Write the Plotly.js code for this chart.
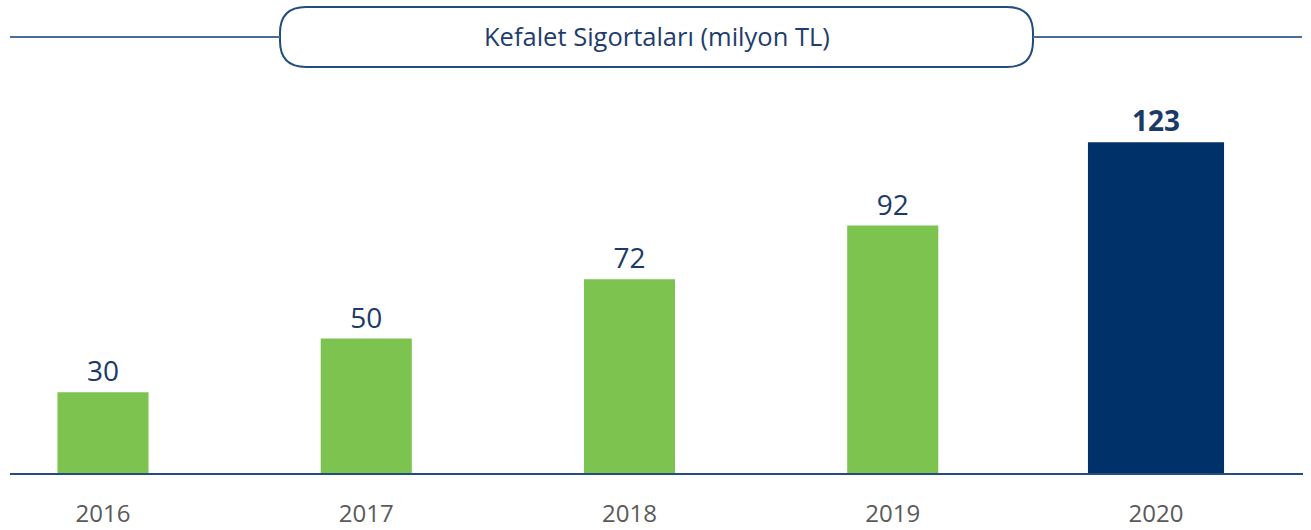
<!DOCTYPE html>
<html>
<head>
<meta charset="utf-8">
<script src="https://cdn.plot.ly/plotly-3.0.1.min.js"></script>
<style>html,body{margin:0;padding:0;background:#fff;}#chart{width:1311px;height:530px;}</style>
</head>
<body>
<div id="chart"></div>
<script>
var years = ['2016', '2017', '2018', '2019', '2020'];
var values = [30, 50, 72, 92, 123];
var labels = ['30', '50', '72', '92', '<b>123</b>'];
var barColors = ['#7dc350', '#7dc350', '#7dc350', '#7dc350', '#003168'];
var barWidths = [0.346, 0.346, 0.346, 0.346, 0.517];
var chartTitle = 'Kefalet Sigortaları (milyon TL)';

var FIG_W = 1311, FIG_H = 530;
var M = {l: 10, r: 8, t: 80, b: 57};
var PW = FIG_W - M.l - M.r, PH = FIG_H - M.t - M.b;
function px(x) { return (x - M.l) / PW; }
function py(y) { return (FIG_H - M.b - y) / PH; }

var navy = '#234d7c';
var xIdx = years.map(function (_, i) { return i; });

var trace = {
  type: 'bar',
  x: xIdx,
  y: values,
  width: barWidths,
  marker: {color: barColors},
  text: labels,
  textposition: 'outside',
  textfont: {family: 'Open Sans, sans-serif', size: 28, color: '#1b3a66'},
  cliponaxis: false,
  hoverinfo: 'none'
};

// rounded title box path (pixel -> paper)
var bx0 = 280, bx1 = 1033, by0 = 7, by1 = 67, r = 26;
function P(x, y) { return px(x) + ',' + py(y); }
var boxPath = 'M' + P(bx0 + r, by0) + ' L' + P(bx1 - r, by0) +
  ' Q' + P(bx1, by0) + ' ' + P(bx1, by0 + r) +
  ' L' + P(bx1, by1 - r) +
  ' Q' + P(bx1, by1) + ' ' + P(bx1 - r, by1) +
  ' L' + P(bx0 + r, by1) +
  ' Q' + P(bx0, by1) + ' ' + P(bx0, by1 - r) +
  ' L' + P(bx0, by0 + r) +
  ' Q' + P(bx0, by0) + ' ' + P(bx0 + r, by0) + ' Z';

var layout = {
  width: FIG_W, height: FIG_H,
  margin: M,
  paper_bgcolor: '#ffffff', plot_bgcolor: '#ffffff',
  showlegend: false,
  font: {family: 'Open Sans, sans-serif'},
  xaxis: {
    range: [(10 - 103) / 263.25, 4 + (1303 - 1156) / 263.25],
    tickmode: 'array', tickvals: xIdx, ticktext: years,
    tickfont: {family: 'Open Sans, sans-serif', size: 24, color: '#5a5a5a'},
    ticks: '', ticklabelstandoff: 18,
    showgrid: false, zeroline: false,
    showline: true, linecolor: navy, linewidth: 2,
    fixedrange: true
  },
  yaxis: {
    range: [0, PH / 2.69],
    visible: false, showgrid: false, zeroline: false, fixedrange: true
  },
  shapes: [
    {type: 'path', xref: 'paper', yref: 'paper', path: boxPath,
     line: {color: navy, width: 2}, fillcolor: 'rgba(0,0,0,0)'},
    {type: 'line', xref: 'paper', yref: 'paper', x0: px(10), x1: px(bx0), y0: py(37), y1: py(37),
     line: {color: '#4a6d96', width: 2}},
    {type: 'line', xref: 'paper', yref: 'paper', x0: px(bx1), x1: px(1302), y0: py(37), y1: py(37),
     line: {color: '#4a6d96', width: 2}}
  ],
  annotations: [
    {xref: 'paper', yref: 'paper', x: px((bx0 + bx1) / 2), y: py(36),
     text: chartTitle, showarrow: false, xanchor: 'center', yanchor: 'middle',
     font: {family: 'Open Sans, sans-serif', size: 25.5, color: '#1f3d6b'}}
  ]
};

Plotly.newPlot('chart', [trace], layout, {displayModeBar: false, staticPlot: true});
</script>
</body>
</html>
